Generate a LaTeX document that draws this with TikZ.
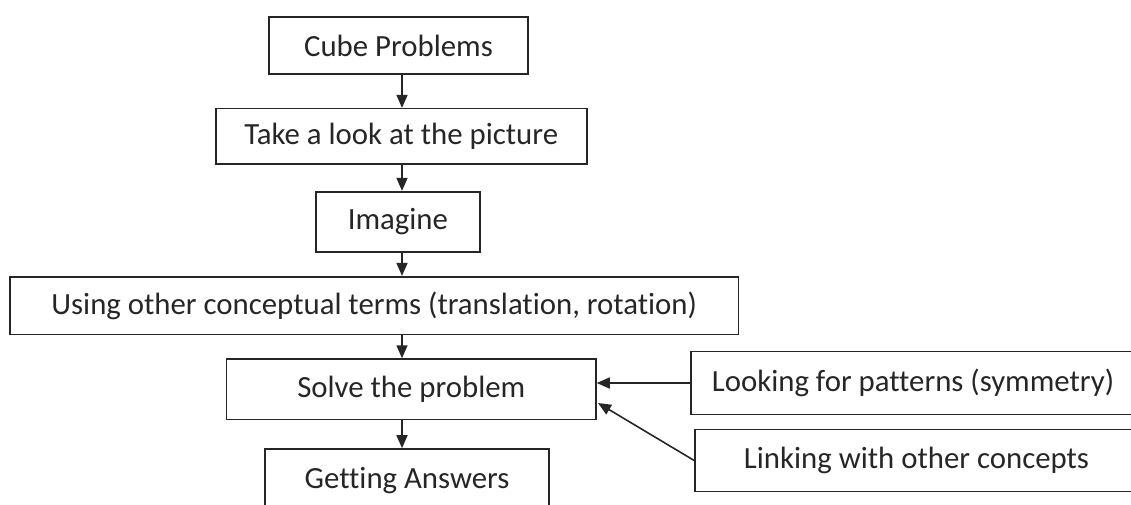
\documentclass[tikz,border=0pt]{standalone}
\usepackage{fontspec}
\setmainfont[Ligatures={NoCommon}]{Carlito}
\usetikzlibrary{arrows.meta}
\begin{document}
\begin{tikzpicture}[x=1pt,y=-1pt,
  box/.style={draw=black!85, line width=1.6pt, inner sep=0pt, font=\fontsize{30.8}{36}\selectfont, text=black!85},
  arr/.style={draw=black!85, line width=1.6pt, -{Triangle[width=11pt,length=13pt]}}]
\useasboundingbox (0,0) rectangle (1131,504);
\node[box, minimum width=259pt, minimum height=57pt] (cube) at (398.5,45.5) {Cube Problems};
\node[box, minimum width=371pt, minimum height=55.3pt] (take) at (401.2,136.3) {Take a look at the picture};
\node[box, minimum width=164.3pt, minimum height=60pt] (imagine) at (397.9,221.7) {Imagine};
\node[box, minimum width=728.3pt, minimum height=57.6pt] (using) at (374.2,305.5) {Using other conceptual terms (translation, rotation)};
\node[box, minimum width=369.3pt, minimum height=60.3pt] (solve) at (411.3,389.2) {Solve the problem};
\node[box, minimum width=284pt, minimum height=64pt] (getting) at (407,481) {Getting Answers};
\node[box, minimum width=449pt, minimum height=63pt] (looking) at (915.5,383) {\hspace*{-5pt}Looking for patterns (symmetry)};
\node[box, minimum width=445pt, minimum height=62pt] (linking) at (917.5,460.5) {\hspace*{-2pt}Linking with other concepts};
\coordinate (axis) at (402,0);
\coordinate (solvein) at (598,403);
\draw[arr] (cube.south -| axis) -- (take.north -| axis);
\draw[arr] (take.south -| axis) -- (imagine.north -| axis);
\draw[arr] (imagine.south -| axis) -- (using.north -| axis);
\draw[arr] (using.south -| axis) -- (solve.north -| axis);
\draw[arr] (solve.south -| axis) -- (getting.north -| axis);
\draw[arr] (looking.west) -- (looking.west -| solve.east);
\draw[arr] (linking.west) -- (solvein);
\end{tikzpicture}
\end{document}
